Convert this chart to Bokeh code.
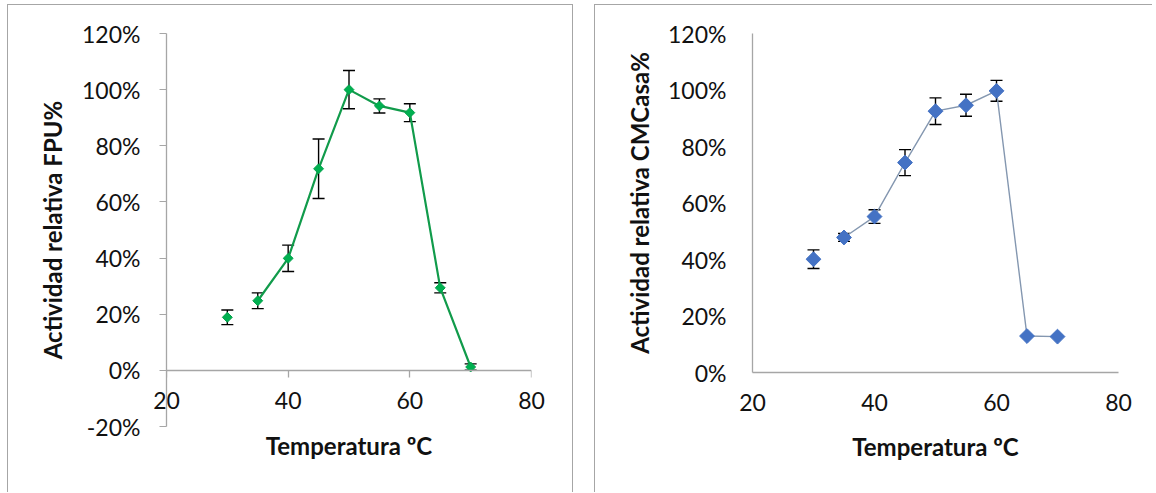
import math
from bokeh.plotting import figure
from bokeh.layouts import row, column
from bokeh.models import (Range1d, FixedTicker, NumeralTickFormatter, Spacer, LinearAxis)
from bokeh.embed import file_html
from bokeh.resources import INLINE

# ---------------- data ----------------
temps = [30, 35, 40, 45, 50, 55, 60, 65, 70]
fpu = [0.189, 0.248, 0.399, 0.718, 1.000, 0.942, 0.918, 0.294, 0.012]
fpu_err = [0.026, 0.028, 0.047, 0.106, 0.068, 0.025, 0.032, 0.018, 0.011]
cmc = [0.401, 0.478, 0.552, 0.743, 0.925, 0.946, 0.997, 0.129, 0.127]
cmc_err = [0.033, 0.014, 0.024, 0.046, 0.047, 0.039, 0.037, 0.0, 0.0]
x_ticks = [20, 40, 60, 80]
x_labels = ["20", "40", "60", "80"]
fpu_y_ticks = [-0.2, 0.0, 0.2, 0.4, 0.6, 0.8, 1.0, 1.2]
cmc_y_ticks = [0.0, 0.2, 0.4, 0.6, 0.8, 1.0, 1.2]
x_title = "Temperatura ºC"
fpu_title = "Actividad relativa FPU%"
cmc_title = "Actividad relativa CMCasa%"

FONT = "Lato"
TICK_SIZE = "23px"
TITLE_SIZE = "24px"
AXIS_GREY = "#a6a6a6"
FRAME_GREY = "1px solid #a6a6a6"
TEXT = "#111111"


def base_fig(width, y_lo, y_hi, mb_left, mb_right, mb_bottom):
    p = figure(width=width, height=488, x_range=Range1d(20, 80), y_range=Range1d(y_lo, y_hi),
               output_backend="svg", toolbar_location=None,
               min_border_left=mb_left, min_border_right=mb_right,
               min_border_top=28, min_border_bottom=mb_bottom)
    p.grid.visible = False
    p.outline_line_color = None
    p.background_fill_color = "white"
    p.border_fill_color = "white"
    return p


def style_y(p, ticks, title, tick_out, tick_standoff, title_standoff):
    ax = p.yaxis[0]
    ax.ticker = FixedTicker(ticks=ticks)
    ax.formatter = NumeralTickFormatter(format="0%")
    ax.minor_tick_line_color = None
    ax.major_tick_in = 0
    ax.major_tick_out = tick_out
    ax.major_tick_line_color = AXIS_GREY if tick_out > 0 else None
    ax.axis_line_color = AXIS_GREY
    ax.axis_line_width = 1.3
    ax.major_label_standoff = tick_standoff
    ax.major_label_text_font = FONT
    ax.major_label_text_font_size = TICK_SIZE
    ax.major_label_text_color = TEXT
    ax.axis_label = title
    ax.axis_label_text_font = FONT
    ax.axis_label_text_font_size = TITLE_SIZE
    ax.axis_label_text_font_style = "bold"
    ax.axis_label_text_color = TEXT
    ax.axis_label_standoff = title_standoff


def style_x_labels(ax, standoff):
    ax.ticker = FixedTicker(ticks=x_ticks)
    ax.major_label_overrides = {t: l for t, l in zip(x_ticks, x_labels)}
    ax.minor_tick_line_color = None
    ax.major_tick_in = 0
    ax.major_tick_out = 0
    ax.major_tick_line_color = None
    ax.major_label_standoff = standoff
    ax.major_label_text_font = FONT
    ax.major_label_text_font_size = TICK_SIZE
    ax.major_label_text_color = TEXT


def style_x_title(ax, standoff):
    ax.axis_label = x_title
    ax.axis_label_text_font = FONT
    ax.axis_label_text_font_size = TITLE_SIZE
    ax.axis_label_text_font_style = "bold"
    ax.axis_label_text_color = TEXT
    ax.axis_label_standoff = standoff


def errorbars(p, xs, ys, es, cap):
    pts = [(x, y, e) for x, y, e in zip(xs, ys, es) if e > 0]
    ex = [a for a, _, _ in pts]
    lo = [b - c for _, b, c in pts]
    hi = [b + c for _, b, c in pts]
    p.segment(x0=ex, y0=lo, x1=ex, y1=hi, line_color="black", line_width=1.4)
    p.scatter(x=ex + ex, y=lo + hi, marker="dash", size=cap, line_color="black", line_width=1.4)


# ---------------- left: FPU ----------------
p1 = base_fig(566, -0.2, 1.2, 158, 43, 67)
p1.styles = {"border-left": FRAME_GREY, "border-top": FRAME_GREY, "border-right": FRAME_GREY}
style_y(p1, fpu_y_ticks, fpu_title, 7, 19, 12)
# tick labels: bottom axis pulled up to sit under the y = 0 line
xa = p1.xaxis[0]
style_x_labels(xa, -35)
xa.axis_line_color = None
# title axis
xt = LinearAxis(ticker=FixedTicker(ticks=[]), axis_line_color=None,
                major_tick_line_color=None, minor_tick_line_color=None)
style_x_title(xt, 4)
p1.add_layout(xt, "below")
# axis line and ticks crossing at y = 0
ax0 = LinearAxis(fixed_location=0, ticker=FixedTicker(ticks=x_ticks))
ax0.axis_line_color = AXIS_GREY
ax0.axis_line_width = 1.3
ax0.minor_tick_line_color = None
ax0.major_tick_in = 0
ax0.major_tick_out = 7
ax0.major_tick_line_color = AXIS_GREY
ax0.major_tick_line_width = 1.3
ax0.major_label_text_color = None
p1.add_layout(ax0, "below")

errorbars(p1, temps, fpu, fpu_err, 12)
p1.line(temps[1:], fpu[1:], line_color="#119b4b", line_width=2.2)
p1.scatter(temps, fpu, marker="square", size=7, angle=math.pi / 4,
           fill_color="#00b050", line_color="#00a04a", line_width=1)

# ---------------- right: CMCasa ----------------
p2 = base_fig(558, 0.0, 1.2, 157, 35, 121)
p2.styles = {"border-left": FRAME_GREY, "border-top": FRAME_GREY}
style_y(p2, cmc_y_ticks, cmc_title, 0, 26, 11)
xb = p2.xaxis[0]
style_x_labels(xb, 21)
xb.axis_line_color = AXIS_GREY
xb.axis_line_width = 1.3
style_x_title(xb, 18)

errorbars(p2, temps, cmc, cmc_err, 12)
p2.line(temps[1:], cmc[1:], line_color="#8497b0", line_width=1.4)
p2.scatter(temps, cmc, marker="square", size=10.5, angle=math.pi / 4,
           fill_color="#4472c4", line_color="#4472c4", line_width=1)

layout = column(Spacer(height=4),
                row(Spacer(width=7), column(p1), Spacer(width=21), column(p2)))
open("out.html", "w").write(file_html(layout, INLINE))
